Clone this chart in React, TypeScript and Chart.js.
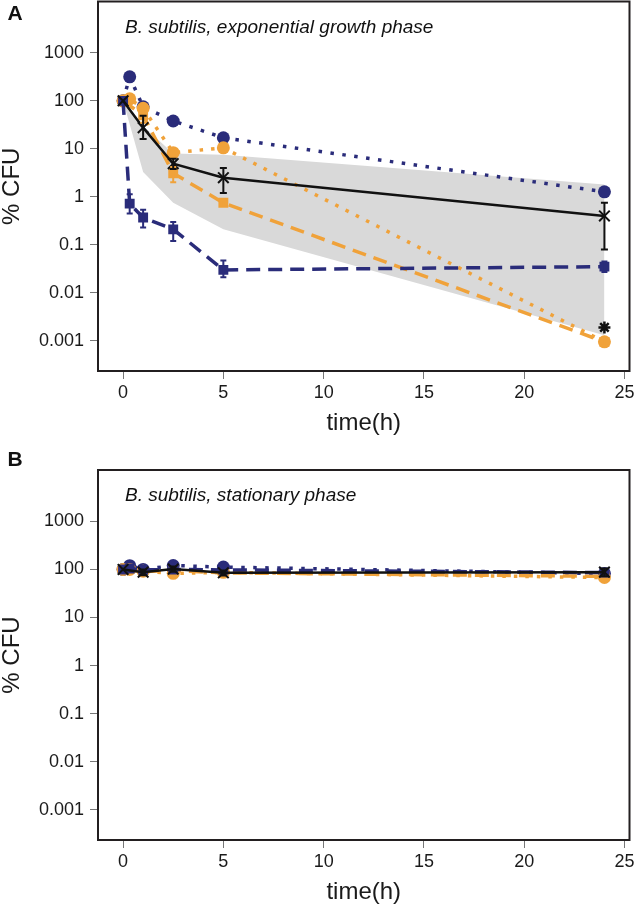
import React, { useEffect, useRef } from 'react';
import { Chart, registerables } from 'chart.js';
Chart.register(...registerables);

const FONT = '"Liberation Sans", Arial, Helvetica, sans-serif';
const NAVY = '#2a2c7a';
const ORANGE = '#f0a23a';
const BLACK = '#111111';
const BAND = '#d9d9d9';
const FRAME = '#231f20';

const panelLabels = ['A', 'B'];
const panelTitles = ['B. subtilis, exponential growth phase', 'B. subtilis, stationary phase'];
const xTitle = 'time(h)';
const yTitle = '% CFU';
const xTicks = [0, 5, 10, 15, 20, 25];
const yTicks = [0.001, 0.01, 0.1, 1, 10, 100, 1000];
const yTickLabels = ['0.001', '0.01', '0.1', '1', '10', '100', '1000'];

// ---------- Panel A (exponential growth phase) ----------
const aNavySqT = [0, 0.33, 1, 2.5, 5, 24];
const aNavySq = [100, 0.72, 0.37, 0.21, 0.03, 0.035];
const aNavySqHi = [100, 1.13, 0.54, 0.3, 0.047, 0.045];
const aNavySqLo = [100, 0.45, 0.23, 0.12, 0.021, 0.027];
const aOrangeSqT = [0, 1, 2.5, 5, 24];
const aOrangeSq = [100, 50, 3.1, 0.75, 0.00095];
const aOrangeSqHi = [100, 70, 4.2, 0.85, 0.0011];
const aOrangeSqLo = [100, 35, 2.0, 0.65, 0.0008];
const aNavyCiT = [0, 0.33, 1, 2.5, 5, 24];
const aNavyCi = [100, 316, 75, 38, 17, 1.27];
const aOrangeCiT = [0, 0.33, 1, 2.5, 5, 24];
const aOrangeCi = [100, 110, 70, 8.3, 10.5, 0.00095];
const aMeanT = [0, 1, 2.5, 5, 24];
const aMean = [100, 27.6, 4.9, 2.5, 0.4];
const aMeanHi = [100, 49, 6.2, 4.0, 0.75];
const aMeanLo = [100, 16, 3.8, 1.2, 0.08];
const aBandT = [0, 1, 2.5, 5, 24];
const aBandHi = [100, 30, 8, 7.5, 1.8];
const aBandLo = [100, 3.3, 0.75, 0.21, 0.0013];
const aStarT = [24];
const aStar = [0.0019];

// ---------- Panel B (stationary phase) ----------
const bNavySqT = [0, 0.33, 1, 2.5, 5, 24];
const bNavySq = [100, 105, 98, 100, 98, 86];
const bOrangeSqT = [0, 1, 2.5, 5, 24];
const bOrangeSq = [100, 90, 95, 85, 72];
const bNavyCiT = [0, 0.33, 1, 2.5, 5, 24];
const bNavyCi = [100, 120, 100, 121, 112, 82];
const bOrangeCiT = [0, 0.33, 1, 2.5, 5, 24];
const bOrangeCi = [100, 100, 92, 83, 87, 68];
const bMeanT = [0, 1, 2.5, 5, 24];
const bMean = [100, 88, 102, 85, 88];
const bMeanHi = [100, 100, 115, 95, 105];
const bMeanLo = [100, 76, 90, 75, 72];

function pts(t: number[], v: number[]) {
  return t.map((x, i) => ({ x, y: v[i] }));
}

const errorBarPlugin = {
  id: 'errorBars',
  afterDatasetsDraw(chart: any) {
    const { ctx, scales } = chart;
    const xs = scales.x;
    const ys = scales.y;
    ctx.save();
    const sets = chart.data.datasets.map((d: any, i: number) => ({ d, i })).reverse();
    for (const { d } of sets) {
      if (!d.errHi || !d.errLo) continue;
      ctx.strokeStyle = d.errColor || BLACK;
      ctx.lineWidth = d.errWidth || 2;
      const cap = d.errCap || 3.5;
      d.data.forEach((p: any, k: number) => {
        const hi = d.errHi[k];
        const lo = d.errLo[k];
        if (hi === p.y && lo === p.y) return;
        const x = xs.getPixelForValue(p.x);
        const y1 = ys.getPixelForValue(hi);
        const y2 = ys.getPixelForValue(lo);
        ctx.beginPath();
        ctx.moveTo(x, y1);
        ctx.lineTo(x, y2);
        ctx.moveTo(x - cap, y1);
        ctx.lineTo(x + cap, y1);
        ctx.moveTo(x - cap, y2);
        ctx.lineTo(x + cap, y2);
        ctx.stroke();
      });
    }
    ctx.restore();
  },
};

const framePlugin = {
  id: 'frame',
  afterDraw(chart: any, _args: any, opts: any) {
    const { ctx, chartArea } = chart;
    ctx.save();
    ctx.strokeStyle = FRAME;
    ctx.lineWidth = 2;
    ctx.strokeRect(chartArea.left, chartArea.top, chartArea.right - chartArea.left, chartArea.bottom - chartArea.top);
    ctx.fillStyle = '#111';
    ctx.font = `italic 19px ${FONT}`;
    ctx.textAlign = 'left';
    ctx.textBaseline = 'middle';
    ctx.fillText(opts.title, 125, chartArea.top + 26);
    ctx.font = `bold 21px ${FONT}`;
    ctx.textAlign = 'center';
    ctx.fillText(opts.label, 15, opts.labelY);
    ctx.restore();
  },
};

type PanelData = {
  navySq: any[]; navySqHi?: number[]; navySqLo?: number[];
  orangeSq: any[]; orangeSqHi?: number[]; orangeSqLo?: number[];
  navyCi: any[]; orangeCi: any[];
  mean: any[]; meanHi: number[]; meanLo: number[];
  star?: any[]; bandHi?: any[]; bandLo?: any[];
};

function buildDatasets(p: PanelData) {
  const ds: any[] = [];
  ds.push({
    data: p.mean, borderColor: BLACK, borderWidth: 2.5, pointStyle: 'crossRot', pointRadius: 7.5,
    pointBorderWidth: 2, pointBorderColor: BLACK, pointBackgroundColor: BLACK,
    errHi: p.meanHi, errLo: p.meanLo, errColor: BLACK, errWidth: 2, errCap: 3.5,
  });
  if (p.star) {
    ds.push({
      data: p.star, showLine: false, pointStyle: 'star', pointRadius: 6, pointBorderWidth: 2.5,
      pointBorderColor: BLACK, pointBackgroundColor: BLACK,
    });
  }
  ds.push({
    data: p.navySq, borderColor: NAVY, borderWidth: 3.5, borderDash: [14, 8], pointStyle: 'rect',
    pointRadius: 7, pointBorderWidth: 0, pointBackgroundColor: NAVY, pointBorderColor: NAVY,
    errHi: p.navySqHi, errLo: p.navySqLo, errColor: NAVY, errWidth: 2, errCap: 3,
  });
  ds.push({
    data: p.orangeSq, borderColor: ORANGE, borderWidth: 3.5, borderDash: [14, 8], pointStyle: 'rect',
    pointRadius: 7, pointBorderWidth: 0, pointBackgroundColor: ORANGE, pointBorderColor: ORANGE,
    errHi: p.orangeSqHi, errLo: p.orangeSqLo, errColor: ORANGE, errWidth: 2, errCap: 3,
  });
  ds.push({
    data: p.orangeCi, borderColor: ORANGE, borderWidth: 3.5, borderDash: [3.5, 8], pointStyle: 'circle',
    pointRadius: 6.5, pointBorderWidth: 0, pointBackgroundColor: ORANGE, pointBorderColor: ORANGE,
  });
  ds.push({
    data: p.navyCi, borderColor: NAVY, borderWidth: 3.5, borderDash: [3.5, 8.5], pointStyle: 'circle',
    pointRadius: 6.5, pointBorderWidth: 0, pointBackgroundColor: NAVY, pointBorderColor: NAVY,
  });
  if (p.bandHi && p.bandLo) {
    ds.push({
      data: p.bandHi, borderWidth: 0, borderColor: BAND, backgroundColor: BAND, pointRadius: 0, fill: '+1',
    });
    ds.push({
      data: p.bandLo, borderWidth: 0, borderColor: BAND, backgroundColor: BAND, pointRadius: 0, fill: false,
    });
  }
  return ds;
}

const panelsData: PanelData[] = [
  {
    navySq: pts(aNavySqT, aNavySq), navySqHi: aNavySqHi, navySqLo: aNavySqLo,
    orangeSq: pts(aOrangeSqT, aOrangeSq), orangeSqHi: aOrangeSqHi, orangeSqLo: aOrangeSqLo,
    navyCi: pts(aNavyCiT, aNavyCi), orangeCi: pts(aOrangeCiT, aOrangeCi),
    mean: pts(aMeanT, aMean), meanHi: aMeanHi, meanLo: aMeanLo,
    star: pts(aStarT, aStar), bandHi: pts(aBandT, aBandHi), bandLo: pts(aBandT, aBandLo),
  },
  {
    navySq: pts(bNavySqT, bNavySq), orangeSq: pts(bOrangeSqT, bOrangeSq),
    navyCi: pts(bNavyCiT, bNavyCi), orangeCi: pts(bOrangeCiT, bOrangeCi),
    mean: pts(bMeanT, bMean), meanHi: bMeanHi, meanLo: bMeanLo,
  },
];

const layouts = [
  { top: -8, height: 448, padTop: 1, xAxisH: 69, titlePad: 5, labelY: 22 },
  { top: 440, height: 466, padTop: 30, xAxisH: 66, titlePad: 2, labelY: 20 },
];

function Panel({ idx }: { idx: number }) {
  const ref = useRef<HTMLCanvasElement>(null);
  const L = layouts[idx];
  useEffect(() => {
    if (!ref.current) return;
    const fixPad = (s: any) => {
      s.paddingLeft = 0; s.paddingRight = 0; s.paddingTop = 0; s.paddingBottom = 0;
    };
    const chart = new Chart(ref.current, {
      type: 'line',
      data: { datasets: buildDatasets(panelsData[idx]) },
      options: {
        responsive: false,
        animation: false,
        events: [],
        layout: { padding: { top: L.padTop, right: 6, bottom: 0, left: 0 } },
        plugins: {
          legend: { display: false },
          tooltip: { enabled: false },
          title: { display: false },
          frame: { title: panelTitles[idx], label: panelLabels[idx], labelY: L.labelY },
        } as any,
        scales: {
          x: {
            type: 'linear',
            bounds: 'data',
            min: -1.25,
            max: 25.25,
            afterBuildTicks: (axis: any) => { axis.ticks = xTicks.map((v) => ({ value: v })); },
            afterFit: (s: any) => { s.height = L.xAxisH; fixPad(s); },
            ticks: {
              font: { family: FONT, size: 18 }, color: '#1a1a1a', padding: 3, maxRotation: 0,
              callback: (v: any) => String(v),
            },
            grid: { drawOnChartArea: false, drawTicks: true, tickLength: 8, color: '#777', lineWidth: 1 },
            border: { display: false },
            title: {
              display: true, text: xTitle, color: '#1a1a1a',
              font: { family: FONT, size: 24, lineHeight: 1 }, padding: { top: 0, bottom: L.titlePad },
            },
          },
          y: {
            type: 'logarithmic',
            bounds: 'data',
            min: Math.pow(10, -3.63),
            max: Math.pow(10, 4.07),
            afterBuildTicks: (axis: any) => { axis.ticks = yTicks.map((v) => ({ value: v })); },
            afterFit: (s: any) => { s.width = 98; fixPad(s); },
            ticks: {
              font: { family: FONT, size: 18 }, color: '#1a1a1a', padding: 6,
              callback: (v: any) => {
                const k = yTicks.findIndex((t) => Math.abs(Math.log10(t) - Math.log10(v)) < 1e-6);
                return k >= 0 ? yTickLabels[k] : '';
              },
            },
            grid: { drawOnChartArea: false, drawTicks: true, tickLength: 8, color: '#777', lineWidth: 1 },
            border: { display: false },
            title: {
              display: true, text: yTitle, color: '#1a1a1a',
              font: { family: FONT, size: 24, lineHeight: 1 }, padding: { top: 0, bottom: 0 },
            },
          },
        },
      } as any,
      plugins: [errorBarPlugin, framePlugin],
    });
    return () => chart.destroy();
  }, [idx]);
  return (
    <canvas
      ref={ref}
      width={639}
      height={L.height}
      style={{ position: 'absolute', left: 0, top: L.top, width: 639, height: L.height, display: 'block' }}
    />
  );
}

export default function App() {
  return (
    <div style={{ position: 'absolute', left: 0, top: 0, width: 639, height: 906, overflow: 'hidden', background: '#fff' }}>
      <Panel idx={0} />
      <Panel idx={1} />
    </div>
  );
}
